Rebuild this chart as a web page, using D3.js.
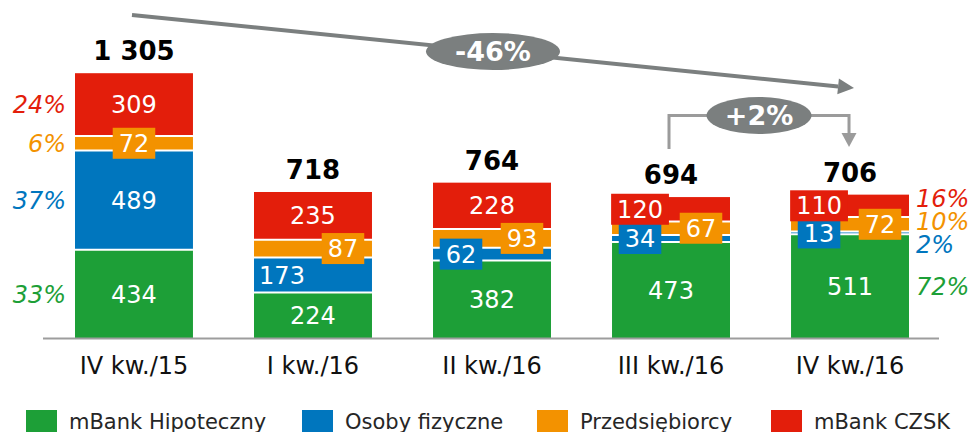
<!DOCTYPE html>
<html>
<head>
<meta charset="utf-8">
<script src="https://cdn.jsdelivr.net/npm/d3@7"></script>
<style>
    body { margin: 0; background: #fff; }
    svg { display: block; font-family: "DejaVu Sans", Verdana, sans-serif; }
</style>
</head>
<body>
<div id="chart"></div>
<script>
// data
const categories = ['IV kw./15', 'I kw./16', 'II kw./16', 'III kw./16', 'IV kw./16'];
const hipoteczny = [434, 224, 382, 473, 511];
const osobyFizyczne = [489, 173, 62, 34, 13];
const przedsiebiorcy = [72, 87, 93, 67, 72];
const czsk = [309, 235, 228, 120, 110];
const totals = [1305, 718, 764, 694, 706];
const seriesNames = ['mBank Hipoteczny', 'Osoby fizyczne', 'Przedsiębiorcy', 'mBank CZSK'];
const sharesFirst = [33, 37, 6, 24];
const sharesLast = [72, 2, 10, 16];
const changeTotal = '-46%';
const changeLastQ = '+2%';

const seriesKeys = ['hip', 'osoby', 'przed', 'czsk'];
const seriesColors = ['#1d9f37', '#0076be', '#f39200', '#e31e0b'];

// where each value label sits: c = centre, l / r = left / right, b = on a box
const labelPlacement = [
    ['c', 'c', 'c', 'c', 'c'],
    ['c', 'l', 'lb', 'lb', 'lb'],
    ['cb', 'rb', 'rb', 'rb', 'rb'],
    ['c', 'c', 'c', 'lb', 'lb']
];

class StackedBars {
    constructor(_config, _data) {
        this.config = {
            parentElement: _config.parentElement,
            containerWidth: 972,
            containerHeight: 432,
            baseline: 338,
            top: 73,
            barLeft: 75,
            barRight: 909,
            gray: '#7b7f7f'
        };
        this.data = _data;
        this.initVis();
    }

    initVis() {
        let vis = this;

        vis.svg = d3.select(vis.config.parentElement).append('svg')
            .attr('width', vis.config.containerWidth)
            .attr('height', vis.config.containerHeight);

        vis.x = d3.scaleBand()
            .domain(categories)
            .range([vis.config.barLeft, vis.config.barRight])
            .paddingInner(0.341)
            .paddingOuter(0);

        vis.y = d3.scaleLinear()
            .domain([0, d3.max(totals)])
            .range([vis.config.baseline, vis.config.top]);

        vis.stack = d3.stack().keys(seriesKeys);

        vis.annotations = vis.svg.append('g');
        vis.bars = vis.svg.append('g');
        vis.separators = vis.svg.append('g');
        vis.labels = vis.svg.append('g');
        vis.legend = vis.svg.append('g');

        vis.renderVis();
    }

    renderVis() {
        let vis = this;
        const bw = vis.x.bandwidth();
        const layers = vis.stack(vis.data);

        vis.bars.selectAll('g').data(layers).join('g')
            .attr('fill', (d, i) => seriesColors[i])
            .selectAll('rect').data(d => d).join('rect')
            .attr('x', d => vis.x(d.data.cat))
            .attr('y', d => vis.y(d[1]))
            .attr('width', bw)
            .attr('height', d => vis.y(d[0]) - vis.y(d[1]));

        // thin white gaps between segments
        vis.separators.selectAll('g').data(layers.slice(1)).join('g')
            .selectAll('line').data(d => d).join('line')
            .attr('x1', d => vis.x(d.data.cat))
            .attr('x2', d => vis.x(d.data.cat) + bw)
            .attr('y1', d => vis.y(d[0]))
            .attr('y2', d => vis.y(d[0]))
            .attr('stroke', '#fff')
            .attr('stroke-width', 2);

        // axis line
        vis.svg.append('line')
            .attr('x1', 43).attr('x2', 939)
            .attr('y1', vis.config.baseline + 0.5).attr('y2', vis.config.baseline + 0.5)
            .attr('stroke', '#9d9d9d')
            .attr('stroke-width', 2);

        // value labels
        layers.forEach((layer, li) => {
            layer.forEach((d, ci) => {
                const p = labelPlacement[li][ci];
                const x0 = vis.x(d.data.cat);
                let cx = x0 + bw / 2;
                if (p[0] === 'l') cx = x0 + 28;
                if (p[0] === 'r') cx = x0 + bw - 29;
                const cy = (vis.y(d[0]) + vis.y(d[1])) / 2;
                const g = vis.labels.append('g');
                const t = g.append('text')
                    .attr('x', cx)
                    .attr('y', cy)
                    .attr('dy', '0.36em')
                    .attr('text-anchor', 'middle')
                    .attr('font-size', 24)
                    .attr('fill', '#fff')
                    .text(d.data[seriesKeys[li]]);
                if (p.includes('b')) {
                    const w = t.node().getComputedTextLength() + 12;
                    g.insert('rect', 'text')
                        .attr('x', cx - w / 2)
                        .attr('y', cy - 15.5)
                        .attr('width', w)
                        .attr('height', 31)
                        .attr('fill', seriesColors[li]);
                }
            });
        });

        // totals above bars
        vis.labels.selectAll('.total').data(categories).join('text')
            .attr('class', 'total')
            .attr('x', d => vis.x(d) + bw / 2)
            .attr('y', (d, i) => vis.y(d3.sum(seriesKeys, k => vis.data[i][k])) - 13)
            .attr('text-anchor', 'middle')
            .attr('font-size', 26)
            .attr('font-weight', 'bold')
            .attr('fill', '#000')
            .text((d, i) => d3.format(',')(totals[i]).replace(/,/g, ' '));

        // category labels
        vis.labels.selectAll('.cat').data(categories).join('text')
            .attr('class', 'cat')
            .attr('x', d => vis.x(d) + bw / 2)
            .attr('y', 374)
            .attr('text-anchor', 'middle')
            .attr('font-size', 24)
            .attr('fill', '#111')
            .text(d => d);

        // share of first and last quarter, spread so they don't collide
        vis.renderShares(layers, 0, sharesFirst, vis.x(categories[0]) - 9, 'end');
        vis.renderShares(layers, categories.length - 1, sharesLast,
            vis.x(categories[categories.length - 1]) + bw + 7, 'start');

        vis.renderAnnotations();
        vis.renderLegend();
    }

    renderShares(layers, ci, shares, x, anchor) {
        let vis = this;
        let ys = layers.map(l => (vis.y(l[ci][0]) + vis.y(l[ci][1])) / 2);
        const minGap = 23;
        for (let it = 0; it < 200; it++) {
            for (let i = 0; i < ys.length - 1; i++) {
                // series go bottom to top, so ys[i] > ys[i+1]
                const gap = ys[i] - ys[i + 1];
                if (gap < minGap) {
                    const push = (minGap - gap) / 2;
                    ys[i] += push;
                    ys[i + 1] -= push;
                }
            }
        }
        vis.labels.append('g').selectAll('text').data(shares).join('text')
            .attr('x', x)
            .attr('y', (d, i) => ys[i])
            .attr('dy', '0.36em')
            .attr('text-anchor', anchor)
            .attr('font-size', 24)
            .attr('font-style', 'italic')
            .attr('fill', (d, i) => seriesColors[i])
            .text(d => d + '%');
    }

    renderAnnotations() {
        let vis = this;
        const bw = vis.x.bandwidth();
        const xc = i => vis.x(categories[i]) + bw / 2;
        const last = categories.length - 1;

        // long arrow across the whole year
        const sx = xc(0) - 2, sy = 15, tx = xc(last) + 4, ty = 88;
        const len = Math.hypot(tx - sx, ty - sy);
        const ux = (tx - sx) / len, uy = (ty - sy) / len;
        const bx = tx - 16 * ux, by = ty - 16 * uy;
        vis.annotations.append('line')
            .attr('x1', sx).attr('y1', sy).attr('x2', bx).attr('y2', by)
            .attr('stroke', vis.config.gray)
            .attr('stroke-width', 4);
        vis.annotations.append('path')
            .attr('d', `M${tx},${ty}L${bx - 8 * uy},${by + 8 * ux}L${bx + 8 * uy},${by - 8 * ux}Z`)
            .attr('fill', vis.config.gray);
        const mx = (sx + tx) / 2, my = (sy + ty) / 2;
        vis.annotations.append('ellipse')
            .attr('cx', mx).attr('cy', my)
            .attr('rx', 67).attr('ry', 18.5)
            .attr('fill', vis.config.gray);
        vis.annotations.append('text')
            .attr('x', mx).attr('y', my)
            .attr('dy', '0.36em')
            .attr('text-anchor', 'middle')
            .attr('font-size', 27)
            .attr('font-weight', 'bold')
            .attr('fill', '#fff')
            .text(changeTotal);

        // quarter on quarter bracket
        const ax = xc(last - 1) - 2, bx2 = xc(last) - 1, top = 115.5;
        vis.annotations.append('path')
            .attr('d', `M${ax},149V${top}H${bx2}V134`)
            .attr('fill', 'none')
            .attr('stroke', '#9b9b9b')
            .attr('stroke-width', 3);
        vis.annotations.append('path')
            .attr('d', `M${bx2 - 7.5},133L${bx2 + 7.5},133L${bx2},147Z`)
            .attr('fill', '#9b9b9b');
        const qx = (ax + bx2) / 2;
        vis.annotations.append('ellipse')
            .attr('cx', qx).attr('cy', top)
            .attr('rx', 52.5).attr('ry', 18.5)
            .attr('fill', vis.config.gray);
        vis.annotations.append('text')
            .attr('x', qx).attr('y', top)
            .attr('dy', '0.36em')
            .attr('text-anchor', 'middle')
            .attr('font-size', 27)
            .attr('font-weight', 'bold')
            .attr('fill', '#fff')
            .text(changeLastQ);
    }

    renderLegend() {
        let vis = this;
        const xs = [26, 302, 537, 771];
        const items = vis.legend.selectAll('g').data(seriesNames).join('g')
            .attr('transform', (d, i) => `translate(${xs[i]},410)`);
        items.append('rect')
            .attr('width', 31)
            .attr('height', 31)
            .attr('fill', (d, i) => seriesColors[i]);
        items.append('text')
            .attr('x', 43)
            .attr('y', 18.5)
            .attr('font-size', 21)
            .attr('fill', '#262626')
            .text(d => d);
    }
}

const table = categories.map((c, i) => ({
    cat: c,
    hip: hipoteczny[i],
    osoby: osobyFizyczne[i],
    przed: przedsiebiorcy[i],
    czsk: czsk[i]
}));

new StackedBars({parentElement: '#chart'}, table);
</script>
</body>
</html>
